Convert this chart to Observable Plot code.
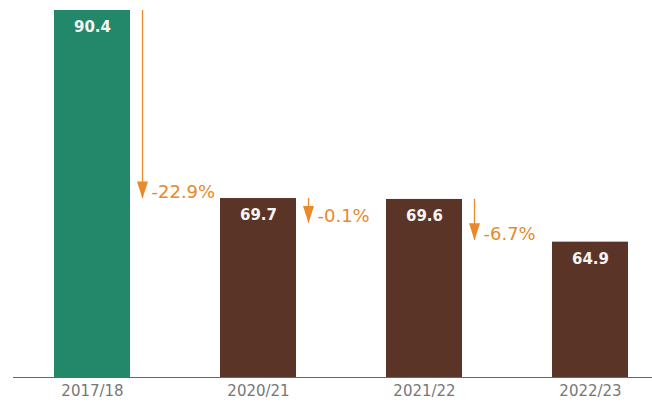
<!DOCTYPE html>
<html><head><meta charset="utf-8">
<script src="https://cdn.jsdelivr.net/npm/d3@7"></script>
<script src="https://cdn.jsdelivr.net/npm/@observablehq/plot@0.6"></script>
<style>body{margin:0;background:#fff}</style>
</head><body><div id="chart"></div>
<script>
const years = ["2017/18", "2020/21", "2021/22", "2022/23"];
const values = [90.4, 69.7, 69.6, 64.9];
const barColors = ["#23876A", "#5B3428", "#5B3428", "#5B3428"];
const changeFrom = ["2017/18", "2020/21", "2021/22"];
const changeStart = [90.4, 69.7, 69.6];
const changeEnd = [69.7, 67.0, 65.1];
const changeLabels = ["-22.9%", "-0.1%", "-6.7%"];

const bars = years.map((y, i) => ({year: y, value: values[i], color: barColors[i]}));
const changes = changeFrom.map((y, i) => ({year: y, from: changeStart[i], to: changeEnd[i], label: changeLabels[i]}));

const head = {
  draw(ctx) {
    ctx.moveTo(-5.5, -17);
    ctx.lineTo(5.5, -17);
    ctx.lineTo(0, 0);
    ctx.closePath();
  }
};

const orange = "#E8892B";

const chart = Plot.plot({
  width: 652,
  height: 402,
  marginTop: 10,
  marginBottom: 25,
  marginLeft: 13,
  marginRight: 0,
  style: {fontFamily: "DejaVu Sans", background: "#fff"},
  x: {type: "band", domain: years, paddingInner: 0.542, paddingOuter: 0.19, align: 0.631, label: null},
  y: {domain: [50, 90.4], axis: null},
  marks: [
    Plot.barY(bars, {x: "year", y1: 50, y2: "value", fill: "color"}),
    Plot.ruleY([50], {stroke: "#666", strokeWidth: 1.2}),
    Plot.axisX({tickSize: 0, tickPadding: 8, fontSize: 15, fill: "#777", label: null}),
    Plot.text(bars, {x: "year", y: "value", text: d => d.value.toFixed(1), dy: 17, lineAnchor: "middle", fill: "#f4f4f4", fontWeight: "bold", fontSize: 15, letterSpacing: "0.4px"}),
    Plot.ruleX(changes, {x: "year", y1: "from", y2: "to", dx: 50, stroke: orange, strokeWidth: 1.3}),
    Plot.dot(changes, {x: "year", y: "to", dx: 50, symbol: head, fill: orange, stroke: "none"}),
    Plot.text(changes, {x: "year", y: "to", text: "label", dx: 59, dy: -6.5, lineAnchor: "middle", textAnchor: "start", fill: orange, fontSize: 18, fontWeight: 400})
  ]
});
document.getElementById("chart").appendChild(chart);
</script>
</body></html>
